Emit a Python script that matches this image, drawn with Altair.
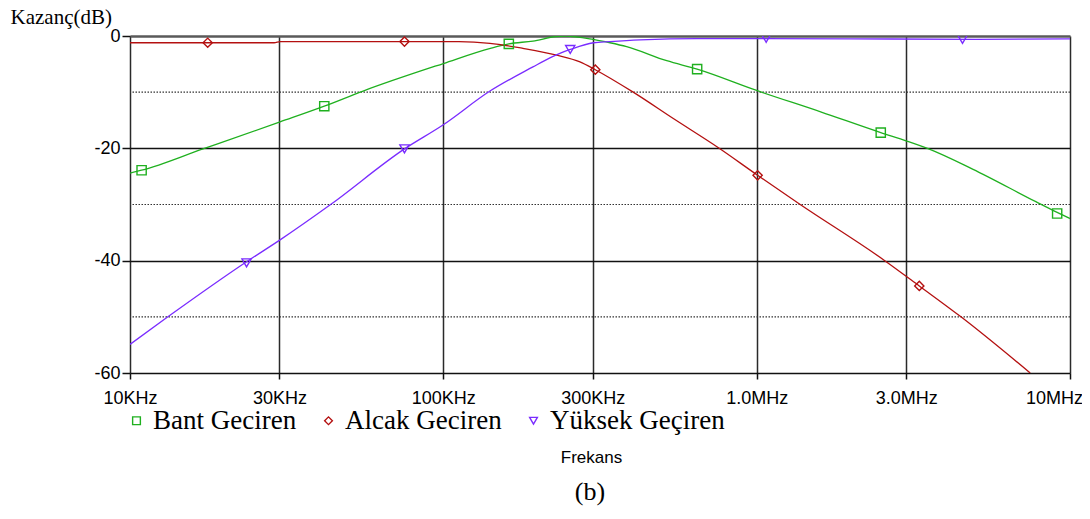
import altair as alt
import pandas as pd

series_names = ["Bant Geciren", "Alcak Geciren", "Yüksek Geçiren"]
series_colors = ["#1fb01f", "#b41010", "#7a2cff"]
series_shapes = ["square", "diamond", "triangle-down"]

SERIF = "'Liberation Serif', 'Times New Roman', serif"
SANS = "'Liberation Sans', Arial, sans-serif"

# Curves (frequency in Hz, gain in dB)
bant_f = [10000, 10890, 17100, 30130, 41690, 55460, 100000, 141300, 161800, 193200,
          229100, 245500, 300600, 340400, 384600, 516400, 645700, 1000000, 1600000,
          2489000, 3013000, 3540000, 4887000, 7780000, 9099000, 10000000]
bant_db = [-24.4, -23.9, -20.1, -15.3, -12.5, -9.8, -4.9, -2.2, -1.4, -0.9,
           -0.1, 0.0, -0.6, -1.2, -1.9, -4.4, -5.9, -9.7, -13.5,
           -17.2, -18.7, -20.1, -23.7, -29.5, -31.4, -32.5]

alcak_f = [10000, 17700, 28840, 30200, 75160, 112200, 140900, 179500, 230100, 272900,
           305500, 403600, 542000, 755100, 1007000, 1377000, 2564000, 3304000, 4487000, 7464000]
alcak_db = [-1.2, -1.2, -1.2, -1.0, -1.0, -1.0, -1.3, -2.2, -3.4, -4.6,
            -6.0, -10.0, -14.7, -19.9, -24.8, -30.0, -40.0, -44.5, -50.0, -60.0]

yuksek_f = [10000, 13210, 23550, 30130, 43450, 75160, 100000, 140900, 193200, 218800,
            235500, 254100, 301300, 340400, 424600, 644200, 2000000, 5000000, 10000000]
yuksek_db = [-54.9, -50.0, -40.2, -36.3, -30.1, -20.1, -15.8, -9.8, -5.5, -3.9,
             -3.1, -2.4, -1.2, -1.0, -0.7, -0.45, -0.5, -0.6, -0.5]

# Marker positions
bant_mk_f = [10890, 41690, 161800, 645700, 2489000, 9099000]
bant_mk_db = [-23.9, -12.5, -1.4, -5.9, -17.2, -31.6]
alcak_mk_f = [17700, 75160, 305500, 1007000, 3304000]
alcak_mk_db = [-1.2, -1.0, -6.0, -24.8, -44.5]
yuksek_mk_f = [23550, 75160, 254100, 1072000, 4539000]
yuksek_mk_db = [-40.4, -20.1, -2.4, -0.4, -0.6]

x_ticks = [10000, 30000, 100000, 300000, 1000000, 3000000, 10000000]
x_tick_labels = ["10KHz", "30KHz", "100KHz", "300KHz", "1.0MHz", "3.0MHz", "10MHz"]
y_ticks = [0, -20, -40, -60]
y_minor = [-10, -30, -50]

curve_lists = [(bant_f, bant_db), (alcak_f, alcak_db), (yuksek_f, yuksek_db)]
marker_lists = [(bant_mk_f, bant_mk_db), (alcak_mk_f, alcak_mk_db), (yuksek_mk_f, yuksek_mk_db)]

curves = pd.concat(
    [pd.DataFrame({"series": n, "freq": f, "db": d}) for n, (f, d) in zip(series_names, curve_lists)],
    ignore_index=True)
markers = pd.concat(
    [pd.DataFrame({"series": n, "freq": f, "db": d}) for n, (f, d) in zip(series_names, marker_lists)],
    ignore_index=True)
minor = pd.DataFrame({"db": y_minor})

# label expression built from tick arrays
expr = "''"
for v, lab in reversed(list(zip(x_ticks, x_tick_labels))):
    expr = f"(abs(datum.value - {v}) < {v} * 0.01) ? '{lab}' : ({expr})"

x_scale = alt.Scale(type="log", domain=[1e4, 1e7], nice=False)
y_scale = alt.Scale(domain=[-60, 0], nice=False, zero=False)

x_axis = alt.Axis(
    values=x_ticks, labelExpr=expr, title="Frekans",
    grid=True, gridColor="#2a2a2a", gridWidth=1.5, gridOpacity=1,
    domain=False, ticks=True, tickSize=6, tickColor="#111", tickWidth=1.5,
    labelFont=SANS, labelFontSize=18, labelColor="black", labelPadding=10,
    labelFlush=False,
    labelOffset={"condition": {"test": "datum.value > 9000000", "value": -16}, "value": 0},
    titleFont=SANS, titleFontSize=17, titleFontWeight="normal", titleColor="black",
    titleX=461, titleY=89, titleAnchor="start", titleAlign="center", titleBaseline="alphabetic",
)
y_axis = alt.Axis(
    values=y_ticks, labelExpr="datum.value == 0 ? '0' : '-' + abs(datum.value)",
    title="Kazanç(dB)", titleAngle=0, titleX=-120, titleY=-13, titleAlign="left",
    titleBaseline="alphabetic", titleFont=SERIF, titleFontSize=21,
    titleFontWeight="normal", titleColor="black",
    grid=True,
    gridColor={"condition": {"test": "datum.value === 0", "value": "#5a5a5a"}, "value": "#111"},
    gridWidth={"condition": {"test": "datum.value === 0", "value": 2.5}, "value": 1.5},
    gridOpacity=1, domain=False, ticks=True, tickSize=8, tickColor="#111", tickWidth=1.5,
    labelFont=SANS, labelFontSize=18, labelColor="black", labelPadding=2,
)

color_scale = alt.Scale(domain=series_names, range=series_colors)
shape_scale = alt.Scale(domain=series_names, range=series_shapes)
leg = dict(
    orient="none", legendX=-7, legendY=371, direction="horizontal", title=None,
    labelFont=SERIF, labelFontSize=27, labelColor="black", labelLimit=400,
    symbolSize=60, symbolStrokeWidth=1.4, labelOffset=3, columnPadding=18, padding=0,
)

dotted = alt.Chart(minor).mark_rule(strokeDash=[1.5, 1.5], color="#333", strokeWidth=1.2).encode(
    y=alt.Y("db:Q", scale=y_scale, axis=y_axis)
)

line_layers = [
    alt.Chart(curves).transform_filter(alt.datum.series == name).mark_line(
        strokeWidth=1.3, interpolate="monotone", clip=True, color=col
    ).encode(
        x=alt.X("freq:Q", scale=x_scale, axis=x_axis),
        y=alt.Y("db:Q", scale=y_scale, axis=y_axis),
    )
    for name, col in zip(series_names, series_colors)
]

points = alt.Chart(markers).mark_point(filled=False, strokeWidth=1.4, size=85, opacity=1, clip=True).encode(
    x=alt.X("freq:Q", scale=x_scale, axis=x_axis),
    y=alt.Y("db:Q", scale=y_scale, axis=y_axis),
    color=alt.Color("series:N", scale=color_scale, legend=alt.Legend(**leg)),
    shape=alt.Shape("series:N", scale=shape_scale, legend=alt.Legend(**leg)),
)

chart = alt.layer(dotted, *line_layers, points).properties(
    width=940, height=337,
    autosize="none",
    padding={"left": 122, "top": 28, "right": 12, "bottom": 138},
    title=alt.TitleParams(
        text="(b)", orient="bottom", anchor="middle", frame="group", baseline="top",
        offset=14, dx=-10, font=SERIF, fontSize=26, fontWeight="normal", color="black",
    ),
).configure_view(stroke=None).configure(background="white")

chart.save("out.html", embed_options={"renderer": "svg", "actions": False})
